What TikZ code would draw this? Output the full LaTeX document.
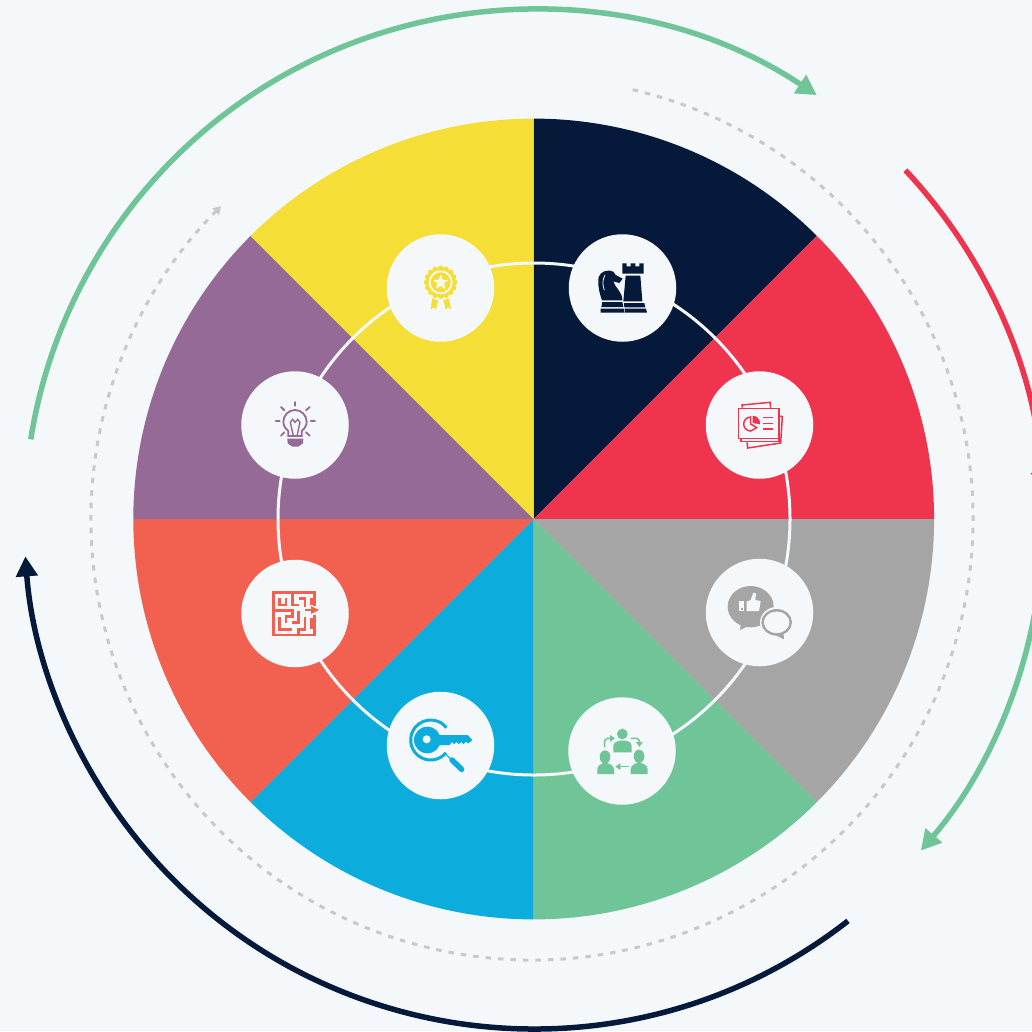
\documentclass[tikz,border=0pt]{standalone}
\usetikzlibrary{arrows.meta}
\definecolor{bgc}{HTML}{F4F8FA}
\definecolor{navyc}{HTML}{05193A}
\definecolor{redc}{HTML}{EF344E}
\definecolor{grayc}{HTML}{A5A5A5}
\definecolor{greenc}{HTML}{6FC597}
\definecolor{bluec}{HTML}{0CADDC}
\definecolor{orangec}{HTML}{F2614F}
\definecolor{purplec}{HTML}{956A97}
\definecolor{yellowc}{HTML}{F5DF36}
\definecolor{dashc}{HTML}{C8C9C9}
\tikzset{
  disc/.style={circle,fill=bgc,minimum size=107.5pt,inner sep=0pt,outer sep=0pt},
  bigring/.style={circle,draw=bgc,line width=3pt,minimum size=512pt,inner sep=0pt},
  bigarc/.style={line width=5.5pt},
  bigtip/.style={-{Triangle[length=20pt,width=21pt]}},
  hint/.style={draw=dashc,line width=3pt,dash pattern=on 5.5pt off 7pt,-{Triangle[length=8pt,width=9pt,color=dashc]}},
}
\begin{document}
\begin{tikzpicture}[x=1pt,y=-1pt,line join=miter]
\useasboundingbox (0,0) rectangle (1032,1031);
\clip (0,0) rectangle (1032,1031);
\fill[bgc] (0,0) rectangle (1032,1031);
\coordinate (c) at (534,519);
\coordinate (p) at (533.7,519);
\coordinate (dc) at (532,519);
% pie
\foreach \a/\col in {-90/navyc,-45/redc,0/grayc,45/greenc,90/bluec,135/orangec,180/purplec,225/yellowc}{
  \fill[\col] (p) -- ++(\a:400.4) arc[start angle=\a,delta angle=45,radius=400.4] -- cycle;
}
% outer arcs
\draw[bigarc,greenc,bigtip] (c) ++(-171:509.5) arc[start angle=-171,end angle=-56.3,radius=509.5];
\draw[bigarc,redc,bigtip] (c) ++(-43.2:509.5) arc[start angle=-43.2,end angle=-3,radius=509.5];
\draw[bigarc,greenc,bigtip] (c) ++(5:509.5) arc[start angle=5,end angle=40.6,radius=509.5];
\draw[bigarc,navyc,bigtip] (c) ++(52:510) arc[start angle=52,end angle=175.8,radius=510];
% dashed guide
\draw[hint] (dc) ++(-76.8:441) arc[start angle=-76.8,end angle=225.2,radius=441];
% ring and discs
\node[bigring] (ring) at (c) {};
\node[disc] (chess) at (622.5,288) {};
\node[disc] (doc) at (759.5,425) {};
\node[disc] (chat) at (759.5,612.5) {};
\node[disc] (people) at (622,751) {};
\node[disc] (key) at (440.5,745.5) {};
\node[disc] (maze) at (295,613.5) {};
\node[disc] (bulb) at (295,425) {};
\node[disc] (medal) at (440.5,288) {};
% chess icon
\begin{scope}[shift={(560,225)},scale=1/3]
\fill[navyc] (187,115)--(200,115)--(200,124)--(212,124)--(212,115)--(226,115)--(226,124)--(238,124)--(238,115)--(251,115)--(251,146)--(187,146)--cycle;
\fill[navyc] (197,152)--(241,152)--(247,229)--(190,229)--cycle;
\fill[navyc] (192,234)--(253,234)--(256,247)--(193,247)--cycle;
\fill[navyc] (194,251)--(258,251)--(261,263)--(194,263)--cycle;
\fill[navyc] (122,251)--(191,251)--(193,263)--(122,263)--cycle;
\fill[navyc] (127,231)--(187,231)--(190,246)--(124,246)--cycle;
\fill[navyc] (126,226) .. controls (118,205) and (112,175) .. (116,156) .. controls (122,138) and (145,132) .. (160,140) -- (167,150) -- (188,161) -- (178,174) -- (160,169) .. controls (168,192) and (187,200) .. (187,226) -- cycle;
\draw[bgc,line width=0.8pt] (135,150) .. controls (127,165) and (127,180) .. (133,195);
\end{scope}
% document icon
\begin{scope}[shift={(560,225)},scale=1/3,redc,line width=1.5pt]
\draw (547,548)--(546,540)--(630,532)--(632,548);
\draw (543,640)--(543,650)--(657,650)--(657,640);
\draw (561,652)--(563,669)--(662,654)--(667,575)--(657,573);
\draw (535,550) rectangle (657,640);
\draw (572,576) arc[start angle=-90,end angle=-270,radius=21] -- (590,608) -- (572,597) -- cycle;
\fill (578,572) arc[start angle=-90,end angle=10,radius=22] -- (578,594) -- cycle;
\draw (610,578)--(640,578) (610,595)--(640,595) (610,612)--(640,612);
\end{scope}
% chat icon
\begin{scope}[shift={(560,550)},scale=1/3]
\fill[grayc] (572,170) ellipse[x radius=69,y radius=62];
\fill[grayc] (545,205)--(540,240)--(590,215)--cycle;
\fill[bgc] (537,152) rectangle (553,184);
\fill[grayc] (543,174) rectangle (548,180);
\fill[bgc] (560,155)--(572,150)--(580,128)--(588,130)--(586,150)--(602,153)--(597,183)--(560,183)--cycle;
\fill[bgc] (650,217) ellipse[x radius=50,y radius=46];
\draw[grayc,line width=2.6pt] (650,217) ellipse[x radius=42,y radius=36];
\fill[grayc] (640,252)--(672,268)--(670,245)--(660,250)--cycle;
\fill[bgc] (650,217) ellipse[x radius=38,y radius=32];
\end{scope}
% people icon
\begin{scope}[shift={(560,550)},scale=1/3,greenc]
\fill (187,552) circle[radius=16];
\fill (160,607)--(160,588) .. controls (160,578) and (172,573) .. (180,572)--(195,572) .. controls (205,573) and (215,578) .. (215,588)--(215,607)--cycle;
\fill (135,621) ellipse[x radius=16,y radius=20];
\fill (112,672)--(112,658) .. controls (113,645) and (125,640) .. (135,638) .. controls (147,640) and (161,645) .. (162,658)--(162,672)--cycle;
\fill (237,619) ellipse[x radius=16,y radius=20];
\fill (212,672)--(212,658) .. controls (213,645) and (225,640) .. (237,638) .. controls (250,640) and (262,645) .. (263,658)--(263,672)--cycle;
\draw[line width=1.5pt,-{Triangle[length=5pt,width=6.5pt]}] (134,592)--(134,572)--(142,565)--(165,565);
\draw[line width=1.5pt,-{Triangle[length=5pt,width=6.5pt]}] (212,565)--(232,565)--(238,572)--(238,591);
\draw[line width=1.5pt,-{Triangle[length=5pt,width=6.5pt]}] (208,650)--(166,650);
\end{scope}
% key icon
\begin{scope}[shift={(235,550)},scale=1/3,bluec]
\draw[line width=3pt] (587,570) ++(40:60) arc[start angle=40,end angle=322,radius=60];
\fill (577,570) circle[radius=40];
\fill (610,555)--(698,555)--(712,570)--(700,580)--(692,575)--(686,582)--(678,576)--(672,582)--(664,576)--(658,582)--(650,576)--(644,585)--(610,585)--cycle;
\fill[bgc] (575,568) circle[radius=12];
\draw[line width=1pt] (632,612)--(646,626);
\draw[line width=5.5pt,line cap=round] (651,630)--(680,658);
\end{scope}
% maze icon
\begin{scope}[shift={(235,550)},scale=1/3,orangec,line width=2.4pt]
\draw (238,168)--(238,128)--(115,128)--(115,255)--(238,255)--(238,196);
\draw (134,145)--(134,165)--(153,165)--(153,145);
\draw (172,128)--(172,165)--(191,165);
\draw (191,145)--(210,145)--(210,172);
\draw (229,145)--(229,165);
\draw (115,182)--(172,182)--(172,200)--(153,200)--(153,218);
\draw (134,200)--(134,238)--(172,238);
\draw (191,182)--(191,218)--(172,218);
\draw (210,200)--(210,238)--(191,238)--(191,255);
\draw (229,205)--(229,238);
\draw (210,180)--(232,180);
\fill (228,168)--(252,180)--(228,192)--cycle;
\end{scope}
% bulb icon
\begin{scope}[shift={(235,225)},scale=1/3,purplec,line width=1.8pt]
\draw (160,633)--(160,618) .. controls (150,610) and (145,600) .. (145,590) .. controls (145,570) and (162,555) .. (180,555) .. controls (198,555) and (215,570) .. (215,590) .. controls (215,600) and (210,610) .. (200,618)--(200,633)--cycle;
\draw[line width=1.4pt] (175,633)--(166,592)--(173,583)--(180,592)--(188,583)--(195,592)--(186,633);
\fill (157,641)--(205,641)--(204,655)--(190,665)--(172,665)--(158,655)--cycle;
\draw[line cap=round] (180,531)--(180,542) (138,546)--(148,556) (224,546)--(213,556) (122,588)--(134,588) (227,588)--(240,588) (138,632)--(148,622) (224,632)--(213,622);
\end{scope}
% medal icon
\begin{scope}[shift={(235,225)},scale=1/3,yellowc]
\fill (617,172) circle[radius=45];
\foreach \t in {0,22.5,...,337.5}{\fill (617,172) ++(\t:43) circle[radius=7.5];}
\fill[bgc] (617,172) circle[radius=36];
\fill (617,172) circle[radius=30];
\fill[bgc] (617,148)--(623,164)--(640,165)--(627,175)--(631,192)--(617,182)--(603,192)--(607,175)--(594,165)--(611,164)--cycle;
\fill (592,220)--(609,226)--(603,254)--(596,247)--(587,253)--cycle;
\fill (642,220)--(625,226)--(632,254)--(639,247)--(648,253)--cycle;
\end{scope}
\end{tikzpicture}
\end{document}
